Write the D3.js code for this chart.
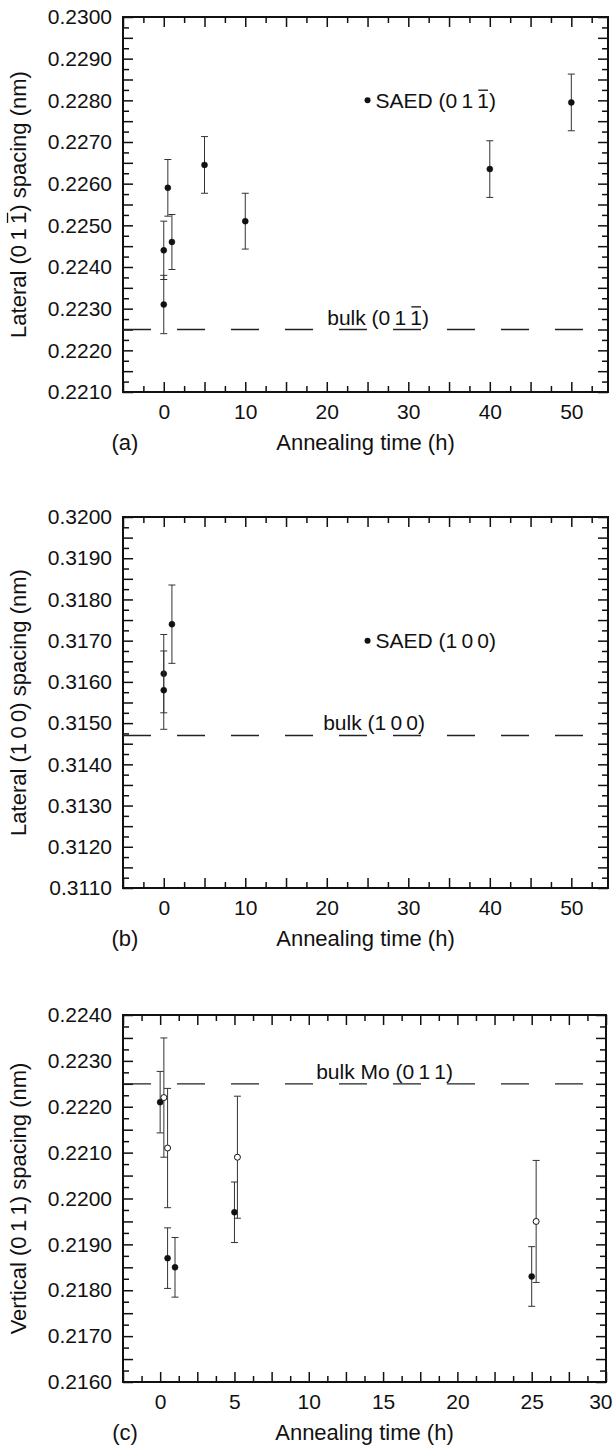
<!DOCTYPE html>
<html>
<head>
<meta charset="utf-8">
<script src="https://cdn.jsdelivr.net/npm/d3@7"></script>
<style>
    body { margin: 0; background: #fff; }
    svg { display: block; }
    text { font-family: "Liberation Sans", Arial, sans-serif; fill: #111; }
    .frame { fill: none; stroke: #111; stroke-width: 2; }
    .axis path { display: none; }
    .axis line { stroke: #111; stroke-width: 1.5; }
    .axis text { font-size: 21px; font-family: "Liberation Sans", Arial, sans-serif; fill: #111; }
    .err { stroke: #333; stroke-width: 1; }
    .bulk { stroke: #222; stroke-width: 1.3; stroke-dasharray: 28 26; }
</style>
</head>
<body>
<svg class="chart" width="613" height="1445"></svg>
<script>
// data
// ------------------------

// (a) lateral (0 1 -1) spacing
var timeA = [0, 0, 0.5, 1, 5, 10, 40, 50];
var spacingA = [0.2244, 0.2231, 0.2259, 0.2246, 0.22645, 0.2251, 0.22635, 0.22795];
var errA = [0.0007, 0.0007, 0.00068, 0.00066, 0.00068, 0.00067, 0.00068, 0.00068];
var saedA = [25, 0.2280];
var bulkA = 0.2225;

// (b) lateral (1 0 0) spacing
var timeB = [0, 0, 1];
var spacingB = [0.3162, 0.3158, 0.3174];
var errB = [0.00095, 0.00095, 0.00095];
var saedB = [25, 0.3170];
var bulkB = 0.3147;

// (c) vertical (0 1 1) spacing, filled and open symbols
var timeC = [0, 0.5, 1, 5, 25];
var spacingC = [0.2221, 0.2187, 0.2185, 0.2197, 0.2183];
var errC = [0.00067, 0.00066, 0.00065, 0.00066, 0.00065];
var timeCOpen = [0.25, 0.5, 5.2, 25.3];
var spacingCOpen = [0.2222, 0.2211, 0.2209, 0.2195];
var errCOpen = [0.0013, 0.0013, 0.00133, 0.00133];
var bulkC = 0.2225;

// tick labels
var timeTicksAB = [0, 10, 20, 30, 40, 50];
var timeTicksC = [0, 5, 10, 15, 20, 25, 30];
var spacingTicksA = [0.2210, 0.2220, 0.2230, 0.2240, 0.2250, 0.2260, 0.2270, 0.2280, 0.2290, 0.2300];
var spacingTicksB = [0.3110, 0.3120, 0.3130, 0.3140, 0.3150, 0.3160, 0.3170, 0.3180, 0.3190, 0.3200];
var spacingTicksC = [0.2160, 0.2170, 0.2180, 0.2190, 0.2200, 0.2210, 0.2220, 0.2230, 0.2240];

(function () {
    var svg = d3.select('.chart');
    var W = 613;
    var T = '\u2009'; // thin space between Miller indices

    var panels = [
        {
            left: 123, right: 608, top: 17, bottom: 392,
            xDomain: [-5, 54.5], yDomain: [0.2210, 0.2300],
            xLabels: timeTicksAB, yLabels: spacingTicksA, xLong: 5, xShort: 2.5,
            tag: '(a)', yTitle: 'Lateral (0' + T + '1' + T + '1) spacing (nm)', yBar: true,
            series: [{ t: timeA, v: spacingA, e: errA, open: false }],
            saed: saedA, saedText: 'SAED (0' + T + '1' + T + '1)', saedBar: true,
            bulk: bulkA, bulkText: 'bulk (0' + T + '1' + T + '1)', bulkX: 26.3, bulkBar: true
        },
        {
            left: 123, right: 608, top: 517, bottom: 888,
            xDomain: [-5, 54.5], yDomain: [0.3110, 0.3200],
            xLabels: timeTicksAB, yLabels: spacingTicksB, xLong: 5, xShort: 2.5,
            tag: '(b)', yTitle: 'Lateral (1' + T + '0' + T + '0) spacing (nm)', yBar: false,
            series: [{ t: timeB, v: spacingB, e: errB, open: false }],
            saed: saedB, saedText: 'SAED (1' + T + '0' + T + '0)', saedBar: false,
            bulk: bulkB, bulkText: 'bulk (1' + T + '0' + T + '0)', bulkX: 25.8, bulkBar: false
        },
        {
            left: 123, right: 606, top: 1015, bottom: 1382,
            xDomain: [-2.5, 30], yDomain: [0.2160, 0.2240],
            xLabels: timeTicksC, yLabels: spacingTicksC, xLong: 2.5, xShort: 1.25,
            tag: '(c)', yTitle: 'Vertical (0' + T + '1' + T + '1) spacing (nm)', yBar: false,
            series: [
                { t: timeC, v: spacingC, e: errC, open: false },
                { t: timeCOpen, v: spacingCOpen, e: errCOpen, open: true }
            ],
            saed: null,
            bulk: bulkC, bulkText: 'bulk Mo (0' + T + '1' + T + '1)', bulkX: 15.1, bulkBar: false
        }
    ];

    panels.forEach(drawPanel);

    // multiples of step inside the domain, optionally skipping multiples of skip
    function steps(domain, step, skip) {
        var out = [];
        var i0 = Math.ceil(domain[0] / step - 1e-9), i1 = Math.floor(domain[1] / step + 1e-9);
        for (var i = i0; i <= i1; i++) {
            var v = i * step;
            if (skip && Math.abs(v / skip - Math.round(v / skip)) < 1e-6) continue;
            out.push(v);
        }
        return out;
    }

    // text with an optional bar over its last "1"
    function addText(parent, x, y, str, size, anchor, bar) {
        var t = parent.append('text')
            .attr('x', x).attr('y', y)
            .style('font-size', size + 'px')
            .attr('text-anchor', anchor)
            .text(str);
        if (bar) {
            var ext = t.node().getExtentOfChar(str.lastIndexOf('1'));
            var by = y - size * 0.84;
            parent.append('line')
                .attr('x1', ext.x + 1).attr('x2', ext.x + ext.width - 1)
                .attr('y1', by).attr('y2', by)
                .attr('stroke', '#111').attr('stroke-width', 1.3);
        }
        return t;
    }

    function drawPanel(p) {
        var g = svg.append('g');
        var x = d3.scaleLinear().domain(p.xDomain).range([p.left, p.right]);
        var y = d3.scaleLinear().domain(p.yDomain).range([p.bottom, p.top]);

        var xLong = steps(p.xDomain, p.xLong);
        var xShort = steps(p.xDomain, p.xShort, p.xLong);
        var yLong = steps(p.yDomain.map(function (d) { return d * 1e4; }), 5).map(function (d) { return d / 1e4; });
        var yShort = steps(p.yDomain.map(function (d) { return d * 1e4; }), 2.5, 5).map(function (d) { return d / 1e4; });

        // inward ticks on all four sides
        function ticks(axisFn, scale, values, size, transform) {
            g.append('g').attr('class', 'axis').attr('transform', transform)
                .call(axisFn(scale).tickValues(values).tickSize(-size).tickFormat(''));
        }
        ticks(d3.axisBottom, x, xLong, 10, 'translate(0,' + p.bottom + ')');
        ticks(d3.axisBottom, x, xShort, 6, 'translate(0,' + p.bottom + ')');
        ticks(d3.axisTop, x, xLong, 10, 'translate(0,' + p.top + ')');
        ticks(d3.axisTop, x, xShort, 6, 'translate(0,' + p.top + ')');
        ticks(d3.axisLeft, y, yLong, 10, 'translate(' + p.left + ',0)');
        ticks(d3.axisLeft, y, yShort, 6, 'translate(' + p.left + ',0)');
        ticks(d3.axisRight, y, yLong, 10, 'translate(' + p.right + ',0)');
        ticks(d3.axisRight, y, yShort, 6, 'translate(' + p.right + ',0)');

        // tick labels
        var xAxis = g.append('g').attr('class', 'axis').attr('transform', 'translate(0,' + p.bottom + ')')
            .call(d3.axisBottom(x).tickValues(p.xLabels).tickSize(0).tickPadding(12).tickFormat(d3.format('d')));
        // keep a label at the right edge inside the page
        xAxis.selectAll('.tick').each(function (d) {
            var txt = d3.select(this).select('text');
            var w = txt.node().getComputedTextLength();
            if (x(d) + w / 2 > W - 1) {
                txt.attr('text-anchor', 'end').attr('x', W - 1 - x(d));
            }
        });
        g.append('g').attr('class', 'axis').attr('transform', 'translate(' + p.left + ',0)')
            .call(d3.axisLeft(y).tickValues(p.yLabels).tickSize(0).tickPadding(11).tickFormat(d3.format('.4f')));

        // frame
        g.append('rect').attr('class', 'frame')
            .attr('x', p.left).attr('y', p.top)
            .attr('width', p.right - p.left).attr('height', p.bottom - p.top);

        // bulk reference line
        g.append('line').attr('class', 'bulk')
            .attr('x1', p.left).attr('x2', p.right)
            .attr('y1', y(p.bulk)).attr('y2', y(p.bulk));
        addText(g, x(p.bulkX), y(p.bulk) - 5, p.bulkText, 21, 'middle', p.bulkBar);

        // SAED marker
        if (p.saed) {
            g.append('circle').attr('cx', x(p.saed[0])).attr('cy', y(p.saed[1])).attr('r', 3).attr('fill', '#111');
            addText(g, x(p.saed[0]) + 8, y(p.saed[1]) + 7.5, p.saedText, 21, 'start', p.saedBar);
        }

        // error bars and points
        p.series.forEach(function (s) {
            var pts = s.t.map(function (t, i) { return { t: t, v: s.v[i], e: s.e[i] }; });
            var eb = g.append('g').selectAll('g').data(pts).enter().append('g');
            eb.append('line').attr('class', 'err')
                .attr('x1', function (d) { return x(d.t); }).attr('x2', function (d) { return x(d.t); })
                .attr('y1', function (d) { return y(d.v - d.e); }).attr('y2', function (d) { return y(d.v + d.e); });
            [-1, 1].forEach(function (k) {
                eb.append('line').attr('class', 'err')
                    .attr('x1', function (d) { return x(d.t) - 3.5; }).attr('x2', function (d) { return x(d.t) + 3.5; })
                    .attr('y1', function (d) { return y(d.v + k * d.e); }).attr('y2', function (d) { return y(d.v + k * d.e); });
            });
            eb.append('circle')
                .attr('cx', function (d) { return x(d.t); })
                .attr('cy', function (d) { return y(d.v); })
                .attr('r', 3)
                .attr('fill', s.open ? '#fff' : '#111')
                .attr('stroke', '#111').attr('stroke-width', s.open ? 1 : 0.5);
        });

        // axis titles
        addText(g, (p.left + p.right) / 2, p.bottom + 58, 'Annealing time (h)', 22, 'middle', false);
        addText(g, 125, p.bottom + 58, p.tag, 22, 'middle', false);
        var yt = g.append('g').attr('transform', 'translate(26,' + (p.top + p.bottom) / 2 + ') rotate(-90)');
        addText(yt, 0, 0, p.yTitle, 22, 'middle', p.yBar);
    }
}());
</script>
</body>
</html>
